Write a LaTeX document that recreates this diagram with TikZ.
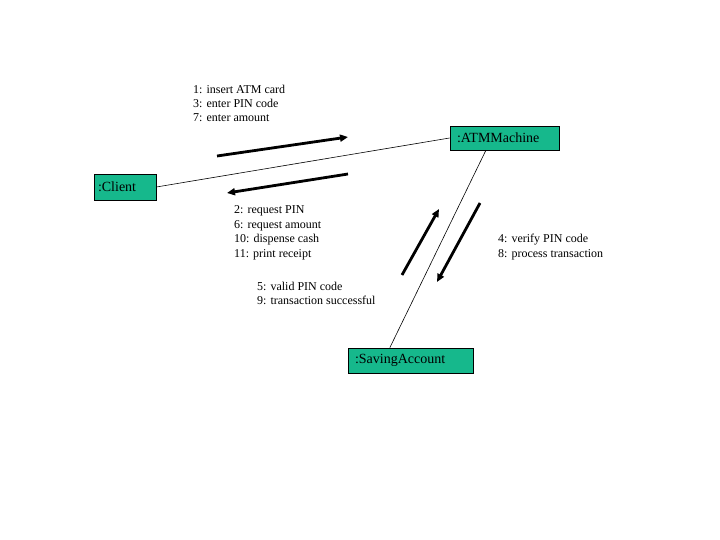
\documentclass[tikz,border=0pt]{standalone}
\usepackage{fontspec}
\setmainfont{Liberation Serif}
\usetikzlibrary{arrows.meta,calc}
\definecolor{boxgreen}{RGB}{22,184,140}
\begin{document}
\begin{tikzpicture}[x=1pt,y=-1pt,
  obj/.style={draw=black, line width=0.8pt, fill=boxgreen, font=\fontsize{14}{16}\selectfont, inner ysep=0pt, align=left},
  lbl/.style={anchor=base west, inner sep=0pt, font=\fontsize{12}{14}\selectfont},
  link/.style={draw=black, line width=0.6pt},
  msg/.style={line width=2.8pt, -{Triangle[length=8pt,width=7pt]}}]
\fill[white] (0,0) rectangle (720,540);
\useasboundingbox (0,0) rectangle (720,540);
% objects
\node[obj, minimum height=26pt, inner xsep=4pt, text width=54pt] (client) at (125,187) {:Client};
\node[obj, minimum height=24pt, inner xsep=7pt, text width=95pt] (atm) at (504.5,138) {:ATMMachine};
\node[obj, minimum height=25pt, inner xsep=7pt, text width=111pt] (sav) at (410.5,360.5) {:SavingAccount};
% links
\draw[link] (client.east) -- (atm.west);
\draw[link] ($(atm.south west)!0.33!(atm.south east)$) -- ($(sav.north west)!0.336!(sav.north east)$);
% message arrows
\coordinate (a1s) at (217,156); \coordinate (a1e) at (348,137);
\coordinate (a2s) at (348,174); \coordinate (a2e) at (227,193);
\coordinate (a3s) at (402,275); \coordinate (a3e) at (439,209);
\coordinate (a4s) at (480,203); \coordinate (a4e) at (437,282);
\draw[msg] (a1s) -- (a1e);
\draw[msg] (a2s) -- (a2e);
\draw[msg] (a3s) -- (a3e);
\draw[msg] (a4s) -- (a4e);
% labels
\node[lbl] (m1) at (193,94) {1: insert ATM card};
\node[lbl] (m3) at (193,108) {3: enter PIN code};
\node[lbl] (m7) at (193,122) {7: enter amount};
\node[lbl] (m2) at (234,214) {2: request PIN};
\node[lbl] (m6) at (234,228.5) {6: request amount};
\node[lbl] (m10) at (234,243) {10: dispense cash};
\node[lbl] (m11) at (234,257.5) {11: print receipt};
\node[lbl] (m5) at (257,290) {5: valid PIN code};
\node[lbl] (m9) at (257,304.5) {9: transaction successful};
\node[lbl] (m4) at (498,242.5) {4: verify PIN code};
\node[lbl] (m8) at (498,257) {8: process transaction};
\end{tikzpicture}
\end{document}
